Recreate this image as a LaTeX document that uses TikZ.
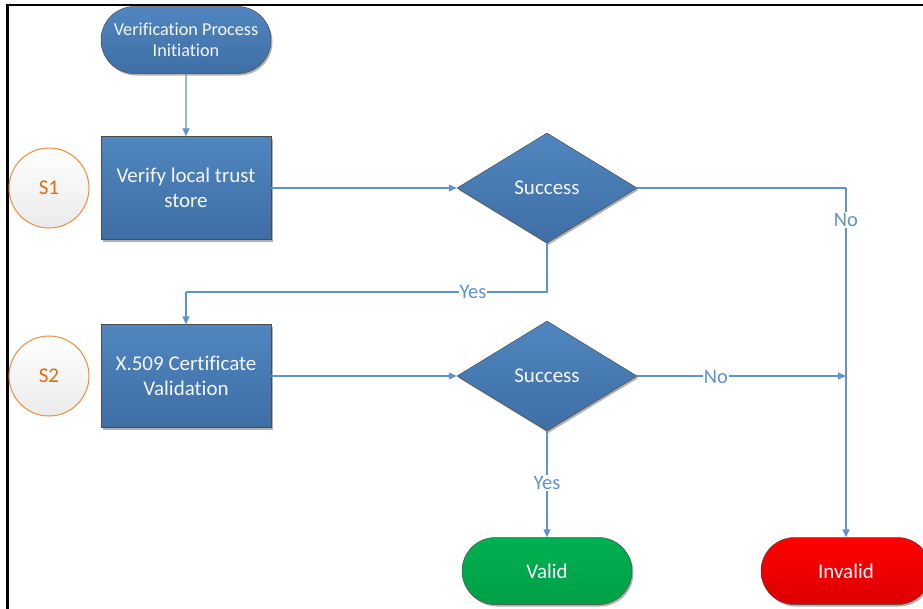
\documentclass[tikz,border=0pt]{standalone}
\usepackage{fontspec}
\setmainfont{Carlito}[Ligatures=CommonOff]
\usetikzlibrary{shapes.geometric,shapes.misc,arrows.meta,shadows}

\definecolor{boxtop}{RGB}{80,134,192}
\definecolor{boxbot}{RGB}{62,110,164}
\definecolor{edgeblue}{RGB}{96,146,204}
\definecolor{ringorange}{RGB}{240,140,60}
\definecolor{labelorange}{RGB}{228,108,10}
\definecolor{okgreen}{RGB}{0,176,80}
\definecolor{okgreendark}{RGB}{0,160,70}
\definecolor{badred}{RGB}{255,0,0}
\definecolor{badreddark}{RGB}{220,0,0}
\definecolor{softwhite}{RGB}{244,246,250}

\tikzset{
  softshadow/.style={drop shadow={shadow xshift=1.5pt,shadow yshift=-2pt,opacity=0.3,fill=black}},
  bluefill/.style={top color=boxtop,bottom color=boxbot,draw=black!70,line width=0.5pt,text=softwhite,softshadow},
  terminal/.style={rounded rectangle,minimum width=170pt,minimum height=67pt,inner sep=0pt,align=center},
  process/.style={bluefill,rectangle,minimum width=170pt,minimum height=103pt,inner sep=2pt,align=center,font=\fontsize{21}{25}\selectfont},
  decision/.style={bluefill,diamond,minimum width=180pt,minimum height=110pt,inner sep=0pt,font=\fontsize{21}{25}\selectfont},
  stepmark/.style={circle,minimum size=80pt,inner sep=0pt,draw=ringorange,line width=1pt,top color=white,bottom color=black!8,text=labelorange,font=\fontsize{21}{25}\selectfont},
  flow/.style={draw=edgeblue,line width=1.1pt},
  flowarrow/.style={flow,-{Triangle[width=7pt,length=8pt]}},
  flowlabel/.style={fill=white,inner sep=1pt,text=edgeblue,font=\fontsize{20.5}{24}\selectfont}
}

\begin{document}
\begin{tikzpicture}[x=1pt,y=-1pt]
\useasboundingbox (0,0) rectangle (923,608);
\clip (0,0) rectangle (923,608);
\fill[white] (0,0) rectangle (923,608);

% frame
\draw[line width=2.5pt] (7.5,610) -- (7.5,5) -- (925,5);

% nodes
\node[terminal,bluefill,font=\fontsize{18.2}{21}\selectfont] (start) at (186,40) {Verification Process\\Initiation};
\node[process] (verify) at (186,188) {Verify local trust\\store};
\node[process] (x509) at (186,376) {X.509 Certificate\\Validation};
\node[stepmark] (s1) at (49,188) {S1};
\node[stepmark] (s2) at (49,376) {S2};
\node[decision] (d1) at (547,188) {Success};
\node[decision] (d2) at (547,376) {Success};
\node[terminal,top color=okgreen,bottom color=okgreendark,draw=black!70,line width=0.5pt,text=softwhite,softshadow,font=\fontsize{21}{25}\selectfont] (valid) at (547,571) {Valid};
\node[terminal,top color=badred,bottom color=badreddark,draw=black!70,line width=0.5pt,text=softwhite,softshadow,font=\fontsize{21}{25}\selectfont] (invalid) at (846,571) {Invalid};

% corner points of the routed connectors
\coordinate (c1) at (846,188);
\coordinate (c2) at (547,292);
\coordinate (c3) at (186,292);
\coordinate (c4) at (846,376);

% connectors
\draw[flowarrow] (start) -- (verify);
\draw[flowarrow] (verify) -- (d1);
\draw[flow] (d1.east) -- (c1);
\draw[flowarrow] (c1) -- (invalid.north);
\draw[flow] (d1.south) -- (c2) -- (c3);
\draw[flowarrow] (c3) -- (x509.north);
\draw[flowarrow] (x509) -- (d2);
\draw[flowarrow] (d2.east) -- (c4);
\draw[flowarrow] (d2.south) -- (valid.north);

% connector labels
\node[flowlabel] (no1) at (846,220) {No};
\node[flowlabel] (yes1) at (473,292) {Yes};
\node[flowlabel] (no2) at (716,377) {No};
\node[flowlabel] (yes2) at (547,483) {Yes};
\end{tikzpicture}
\end{document}
